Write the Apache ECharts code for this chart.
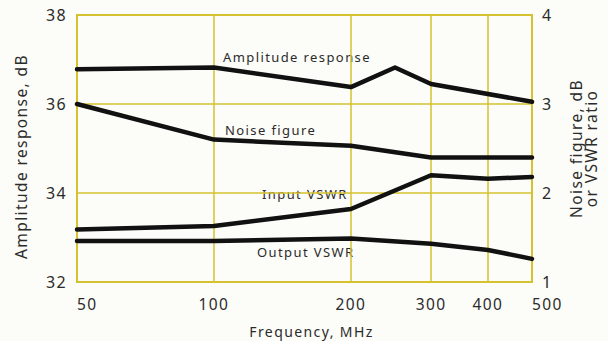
<!DOCTYPE html>
<html>
<head>
<meta charset="utf-8">
<script src="https://cdn.jsdelivr.net/npm/echarts@6/dist/echarts.min.js"></script>
<style>
  html, body { margin: 0; padding: 0; background: #fcfcf8; }
  #chart { width: 608px; height: 341px; }
  /* airy typewriter-like tracking for every label */
  #chart text { letter-spacing: 1.4px; }
</style>
</head>
<body>
<div id="chart"></div>
<script>
// Frequency points (MHz) and measured curves
const freqTicks = [50, 100, 200, 300, 400, 500];
const ampFreq = [50, 100, 200, 250, 300, 500];
const ampResponse = [36.78, 36.82, 36.38, 36.82, 36.45, 36.05];   // dB, left axis
const nfFreq = [50, 100, 200, 300, 500];
const noiseFigure = [3.0, 2.6, 2.53, 2.4, 2.4];                    // dB, right axis
const vswrFreq = [50, 100, 200, 300, 400, 500];
const inputVSWR = [1.59, 1.63, 1.82, 2.2, 2.16, 2.18];
const outputVSWR = [1.46, 1.46, 1.49, 1.43, 1.36, 1.26];
const leftTicks = [32, 34, 36, 38];
const rightTicks = [1, 2, 3, 4];

const pairs = (xs, ys) => xs.map((x, i) => [x, ys[i]]);

const FONT = 'Noto Sans';
const TXT = '#2b2b2b';
const GRID = '#d6c230';

const lineStyle = { color: '#111', width: 4.5, cap: 'round', join: 'round' };
function curve(name, xs, ys, yIdx) {
  return {
    name, type: 'line', yAxisIndex: yIdx, data: pairs(xs, ys),
    symbol: 'none', lineStyle, silent: true, animation: false
  };
}

const labelFont = '13px "Noto Sans"';

const chart = echarts.init(document.getElementById('chart'), null, { renderer: 'svg' });
chart.setOption({
  backgroundColor: '#fcfcf8',
  animation: false,
  grid: {
    left: 77, right: 76, top: 15, bottom: 59, outerBoundsMode: 'none',
    show: true, borderColor: GRID, borderWidth: 2
  },
  xAxis: {
    type: 'log', logBase: 10, min: 50, max: 500,
    name: 'Frequency, MHz', nameLocation: 'middle', nameGap: 42,
    nameTextStyle: { fontFamily: FONT, fontSize: 14, color: TXT, padding: [0, 0, 0, 14] },
    axisLine: { show: false },
    axisTick: { show: false, customValues: freqTicks },
    axisLabel: {
      customValues: freqTicks, fontFamily: FONT, fontSize: 15.5, color: TXT, margin: 14,
      alignMinLabel: 'left', alignMaxLabel: 'left'
    },
    splitLine: { show: true, lineStyle: { color: GRID, width: 1.5 } }
  },
  yAxis: [
    {
      type: 'value', min: 32, max: 38, interval: 2, position: 'left',
      name: 'Amplitude response, dB', nameLocation: 'middle', nameGap: 48, nameRotate: 90,
      nameTextStyle: { fontFamily: FONT, fontSize: 15.5, color: TXT, padding: [0, 16, 0, 0] },
      axisLine: { show: false }, axisTick: { show: false },
      axisLabel: { fontFamily: FONT, fontSize: 16, color: TXT, margin: 10,
        customValues: leftTicks },
      splitLine: { show: true, lineStyle: { color: GRID, width: 1.5 } }
    },
    {
      type: 'value', min: 1, max: 4, interval: 1, position: 'right',
      name: 'Noise figure, dB\nor VSWR ratio', nameLocation: 'middle', nameGap: 36, nameRotate: 90,
      nameTextStyle: { fontFamily: FONT, fontSize: 15.5, color: TXT, lineHeight: 15 },
      axisLine: { show: false }, axisTick: { show: false },
      axisLabel: { fontFamily: FONT, fontSize: 16, color: TXT, margin: 10,
        customValues: rightTicks },
      splitLine: { show: false }
    }
  ],
  series: [
    curve('Amplitude response', ampFreq, ampResponse, 0),
    curve('Noise figure', nfFreq, noiseFigure, 1),
    curve('Input VSWR', vswrFreq, inputVSWR, 1),
    curve('Output VSWR', vswrFreq, outputVSWR, 1)
  ],
  graphic: [
    { type: 'text', left: 223, top: 50, style: { text: 'Amplitude response', font: labelFont, fill: TXT } },
    { type: 'text', left: 225, top: 123, style: { text: 'Noise figure', font: labelFont, fill: TXT } },
    { type: 'text', left: 262, top: 187, style: { text: 'Input VSWR', font: labelFont, fill: TXT } },
    { type: 'text', left: 257, top: 245, style: { text: 'Output VSWR', font: labelFont, fill: TXT } }
  ]
});
</script>
</body>
</html>
